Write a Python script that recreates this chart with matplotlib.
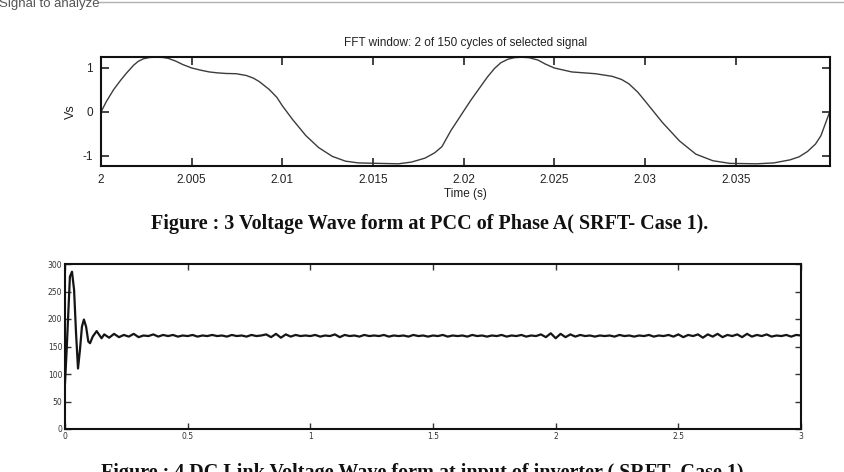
import numpy as np
import matplotlib
matplotlib.use("Agg")
import matplotlib.pyplot as plt
from matplotlib.lines import Line2D

# ---------------- data: phase-A voltage at PCC (per unit) ----------------
t_vs = [2.0, 2.0003, 2.0007, 2.0011, 2.00142, 2.00179, 2.00205, 2.00234, 2.0027,
        2.00307, 2.0034, 2.0037, 2.0041, 2.0045, 2.005,
        2.0055, 2.00597, 2.0064, 2.0069, 2.00745, 2.008, 2.0084, 2.00873, 2.00928,
        2.0097, 2.01, 2.01056, 2.0113, 2.012, 2.01275, 2.01348, 2.0142, 2.0153,
        2.0164, 2.01713, 2.01787, 2.0184, 2.0188, 2.0193, 2.0197, 2.02, 2.0204,
        2.02078, 2.0213, 2.0217, 2.02205, 2.02244, 2.0228, 2.02318, 2.0236, 2.0241,
        2.0245, 2.025, 2.02596, 2.02726, 2.02819, 2.0287, 2.02911, 2.0296, 2.03,
        2.03096, 2.0319, 2.0328, 2.03374, 2.03467, 2.03615, 2.0371, 2.038, 2.0385,
        2.03896, 2.0394, 2.0397, 2.0402]
v_vs = [0.0, 0.24, 0.51, 0.73, 0.89, 1.06, 1.15, 1.21, 1.24,
        1.245, 1.24, 1.22, 1.16, 1.08, 1.0,
        0.95, 0.91, 0.89, 0.875, 0.87, 0.83, 0.77, 0.69, 0.51,
        0.33, 0.14, -0.17, -0.54, -0.81, -1.01, -1.12, -1.16, -1.17,
        -1.18, -1.14, -1.05, -0.93, -0.79, -0.42, -0.17, 0.02, 0.27,
        0.49, 0.79, 0.99, 1.12, 1.2, 1.235, 1.245, 1.235, 1.18,
        1.09, 1.0, 0.91, 0.87, 0.81, 0.74, 0.64, 0.45, 0.25,
        -0.24, -0.66, -0.96, -1.11, -1.17, -1.18, -1.16, -1.09, -1.02,
        -0.9, -0.73, -0.54, 0.02]
vs_xticks = [2.0, 2.005, 2.01, 2.015, 2.02, 2.025, 2.03, 2.035]
vs_xticklabels = ["2", "2.005", "2.01", "2.015", "2.02", "2.025", "2.03", "2.035"]
vs_yticks = [-1, 0, 1]

# ---------------- data: DC link voltage ----------------
t_dc_start = [0.0, 0.0068, 0.02, 0.0285, 0.037, 0.045, 0.053, 0.061, 0.069, 0.077,
              0.086, 0.095, 0.102, 0.113, 0.129, 0.14, 0.149]
v_dc_start = [83, 144, 277, 286, 253, 174, 110, 144, 186, 199,
              186, 159, 156, 168, 178, 171, 165]
v_dc_steady = [
    172, 166, 173, 167, 171, 168, 173, 167, 170, 169, 172, 168, 171,
    169, 171, 168, 170, 169, 171, 168, 170, 169, 171, 169, 170, 168, 171, 169,
    170, 168, 171, 169, 170, 172, 167, 173, 166, 172, 168, 171, 169, 170, 169,
    171, 168, 170, 169, 172, 167, 171, 169, 170, 168, 171, 169, 170, 169, 171,
    168, 170, 169, 170, 168, 171, 169, 170, 168, 170,
    169, 171, 168, 170, 169, 170, 168, 171, 169, 170, 168, 170, 169, 171, 168,
    170, 169, 171, 168, 170, 169, 172, 167, 174, 165,
    173, 167, 172, 168, 171, 169, 170, 168, 170, 169, 170, 168, 171, 169, 170,
    168, 170, 169, 171, 168, 170, 169, 171, 168, 172,
    167, 171, 169, 172, 166, 172, 168, 173, 167, 171, 169, 172, 167, 173, 168,
    171, 169, 172, 168, 170, 169, 171, 168, 171, 170]
t_dc_steady = np.linspace(0.16, 3.0, len(v_dc_steady))
dc_xticks = [0, 0.5, 1, 1.5, 2, 2.5, 3]
dc_xticklabels = ["0", "0.5", "1", "1.5", "2", "2.5", "3"]
dc_yticks = [0, 50, 100, 150, 200, 250, 300]

W, H = 845, 472
fig = plt.figure(figsize=(W / 100, H / 100), dpi=100)
fig.patch.set_facecolor("white")

sans = ["Liberation Sans", "DejaVu Sans"]
serif = ["Liberation Serif", "DejaVu Serif"]

# header "Signal to analyze" (clipped at the top)
fig.text(-1 / W, 1 - 7.5 / H, "Signal to analyze", family=sans, fontsize=9.5,
         color="#555555", va="baseline", ha="left")
fig.add_artist(Line2D([98 / W, 1.0], [1 - 2 / H, 1 - 2 / H], color="#b0b0b0",
                      lw=1, transform=fig.transFigure))

# ---------------- top axes ----------------
ax1 = fig.add_axes([101 / W, 1 - 166 / H, 729 / W, 109 / H])
ax1.plot(t_vs, v_vs, color="#3c3c3c", lw=1.0)
ax1.set_xlim(2.0, 2.0402)
ax1.set_ylim(-1.23, 1.25)
ax1.set_xticks(vs_xticks)
ax1.set_xticklabels(vs_xticklabels)
ax1.set_yticks(vs_yticks)
ax1.set_yticklabels(["-1", "0", "1"])
ax1.tick_params(direction="in", length=6, width=1.2, top=True, right=True,
                labelsize=8.5, colors="#222222", pad=6)
for lab in ax1.get_xticklabels() + ax1.get_yticklabels():
    lab.set_family(sans)
for sp in ax1.spines.values():
    sp.set_linewidth(1.5)
    sp.set_color("#111111")
ax1.set_title("FFT window: 2 of 150 cycles of selected signal", family=sans,
              fontsize=8.5, color="#222222", pad=8)
ax1.set_ylabel("Vs", family=sans, fontsize=9, color="#222222", labelpad=4)
ax1.set_xlabel("Time (s)", family=sans, fontsize=8.5, color="#222222", labelpad=1)

fig.text(430 / W, 1 - 229 / H,
         "Figure : 3 Voltage Wave form at PCC of Phase A( SRFT- Case 1).",
         family=serif, fontweight="bold", fontsize=14.5, ha="center", va="baseline",
         color="#111111")

# ---------------- bottom axes ----------------
ax2 = fig.add_axes([65 / W, 1 - 429 / H, 736 / W, 165 / H])
ax2.plot(list(t_dc_start) + list(t_dc_steady), list(v_dc_start) + list(v_dc_steady),
         color="#151515", lw=1.6)
ax2.set_xlim(0, 3)
ax2.set_ylim(0, 300)
ax2.set_xticks(dc_xticks)
ax2.set_xticklabels(dc_xticklabels)
ax2.set_yticks(dc_yticks)
ax2.tick_params(direction="in", length=4, width=1.0, top=True, right=True,
                labelsize=5.5, colors="#333333", pad=2)
for sp in ax2.spines.values():
    sp.set_linewidth(1.5)
    sp.set_color("#111111")

fig.text(425 / W, 1 - 478 / H,
         "Figure : 4 DC Link Voltage Wave form at input of inverter ( SRFT- Case 1).",
         family=serif, fontweight="bold", fontsize=14.5, ha="center", va="baseline",
         color="#111111")

fig.savefig("out.png", dpi=100)
